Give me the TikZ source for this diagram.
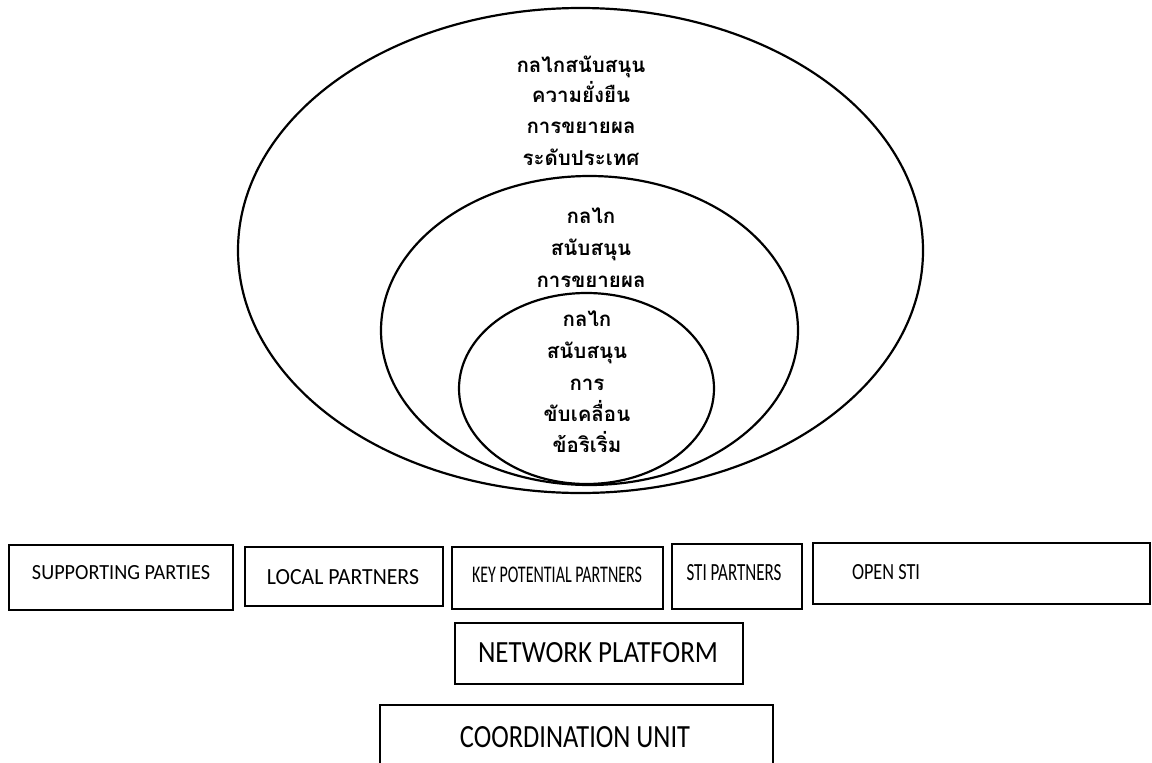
\documentclass[tikz,border=0pt]{standalone}
\usepackage{fontspec}
\usepackage{graphicx}
\newfontfamily\thaifont[Script=Thai]{Loma}
\newfontfamily\boxfont{Carlito}
\usetikzlibrary{shapes.geometric}
\newcommand{\fitcap}[3]{\resizebox{#1pt}{#2pt}{\boxfont #3}}
\begin{document}
\begin{tikzpicture}[x=1pt,y=-1pt,
  ring/.style={draw, ellipse, line width=2.2pt, inner sep=0pt},
  thai/.style={font=\thaifont\bfseries\fontsize{20.5}{32}\selectfont, inner sep=0pt, anchor=base},
  box/.style={draw, line width=1.3pt, inner sep=0pt},
  boxtext/.style={inner sep=0pt, anchor=center}]
\useasboundingbox (0,0) rectangle (1152,763);
\clip (0,0) rectangle (1152,763);
% rings
\node[ring, minimum width=685, minimum height=485] (outer) at (580.5,250.5) {};
\node[ring, minimum width=417, minimum height=309] (middle) at (589.5,330.5) {};
\node[ring, minimum width=255, minimum height=191] (inner) at (586.5,388.5) {};
% ring texts
\node[thai] (t1a) at (581,72) {กลไกสนับสนุน};
\node[thai] (t1b) at (581,102) {ความยั่งยืน};
\node[thai] (t1c) at (581,133) {การขยายผล};
\node[thai] (t1d) at (581,165) {ระดับประเทศ};
\node[thai] (t2a) at (591,223) {กลไก};
\node[thai] (t2b) at (591,255) {สนับสนุน};
\node[thai] (t2c) at (591,287) {การขยายผล};
\node[thai] (t3a) at (587,326) {กลไก};
\node[thai] (t3b) at (587,358) {สนับสนุน};
\node[thai] (t3c) at (587,390) {การ};
\node[thai] (t3d) at (587,421) {ขับเคลื่อน};
\node[thai] (t3e) at (587,452) {ข้อริเริ่ม};
% boxes
\node[box, minimum width=224, minimum height=65] (sp) at (121,577.5) {};
\node[box, minimum width=198, minimum height=59] (lp) at (344,576.5) {};
\node[box, minimum width=211, minimum height=62] (kp) at (557.5,578) {};
\node[box, minimum width=130, minimum height=65] (stp) at (737,576.5) {};
\node[box, minimum width=337, minimum height=61] (os) at (981.5,573.5) {};
\node[box, minimum width=288, minimum height=61] (np) at (599,653.5) {};
\node[box, minimum width=393, minimum height=80] (cu) at (576.5,745) {};
% box texts
\node[boxtext] (spt) at (121,573) {\fitcap{178}{14}{SUPPORTING PARTIES}};
\node[boxtext] (lpt) at (343,577) {\fitcap{152}{15}{LOCAL PARTNERS}};
\node[boxtext] (kpt) at (557,575) {\fitcap{170}{15.5}{KEY POTENTIAL PARTNERS}};
\node[boxtext] (stpt) at (734,573) {\fitcap{95}{16}{STI PARTNERS}};
\node[boxtext] (ost) at (886,572) {\fitcap{68}{15}{OPEN STI}};
\node[boxtext] (npt) at (598,653) {\fitcap{240}{20}{NETWORK PLATFORM}};
\node[boxtext] (cut) at (575,737) {\fitcap{230}{21}{COORDINATION UNIT}};
\end{tikzpicture}
\end{document}
